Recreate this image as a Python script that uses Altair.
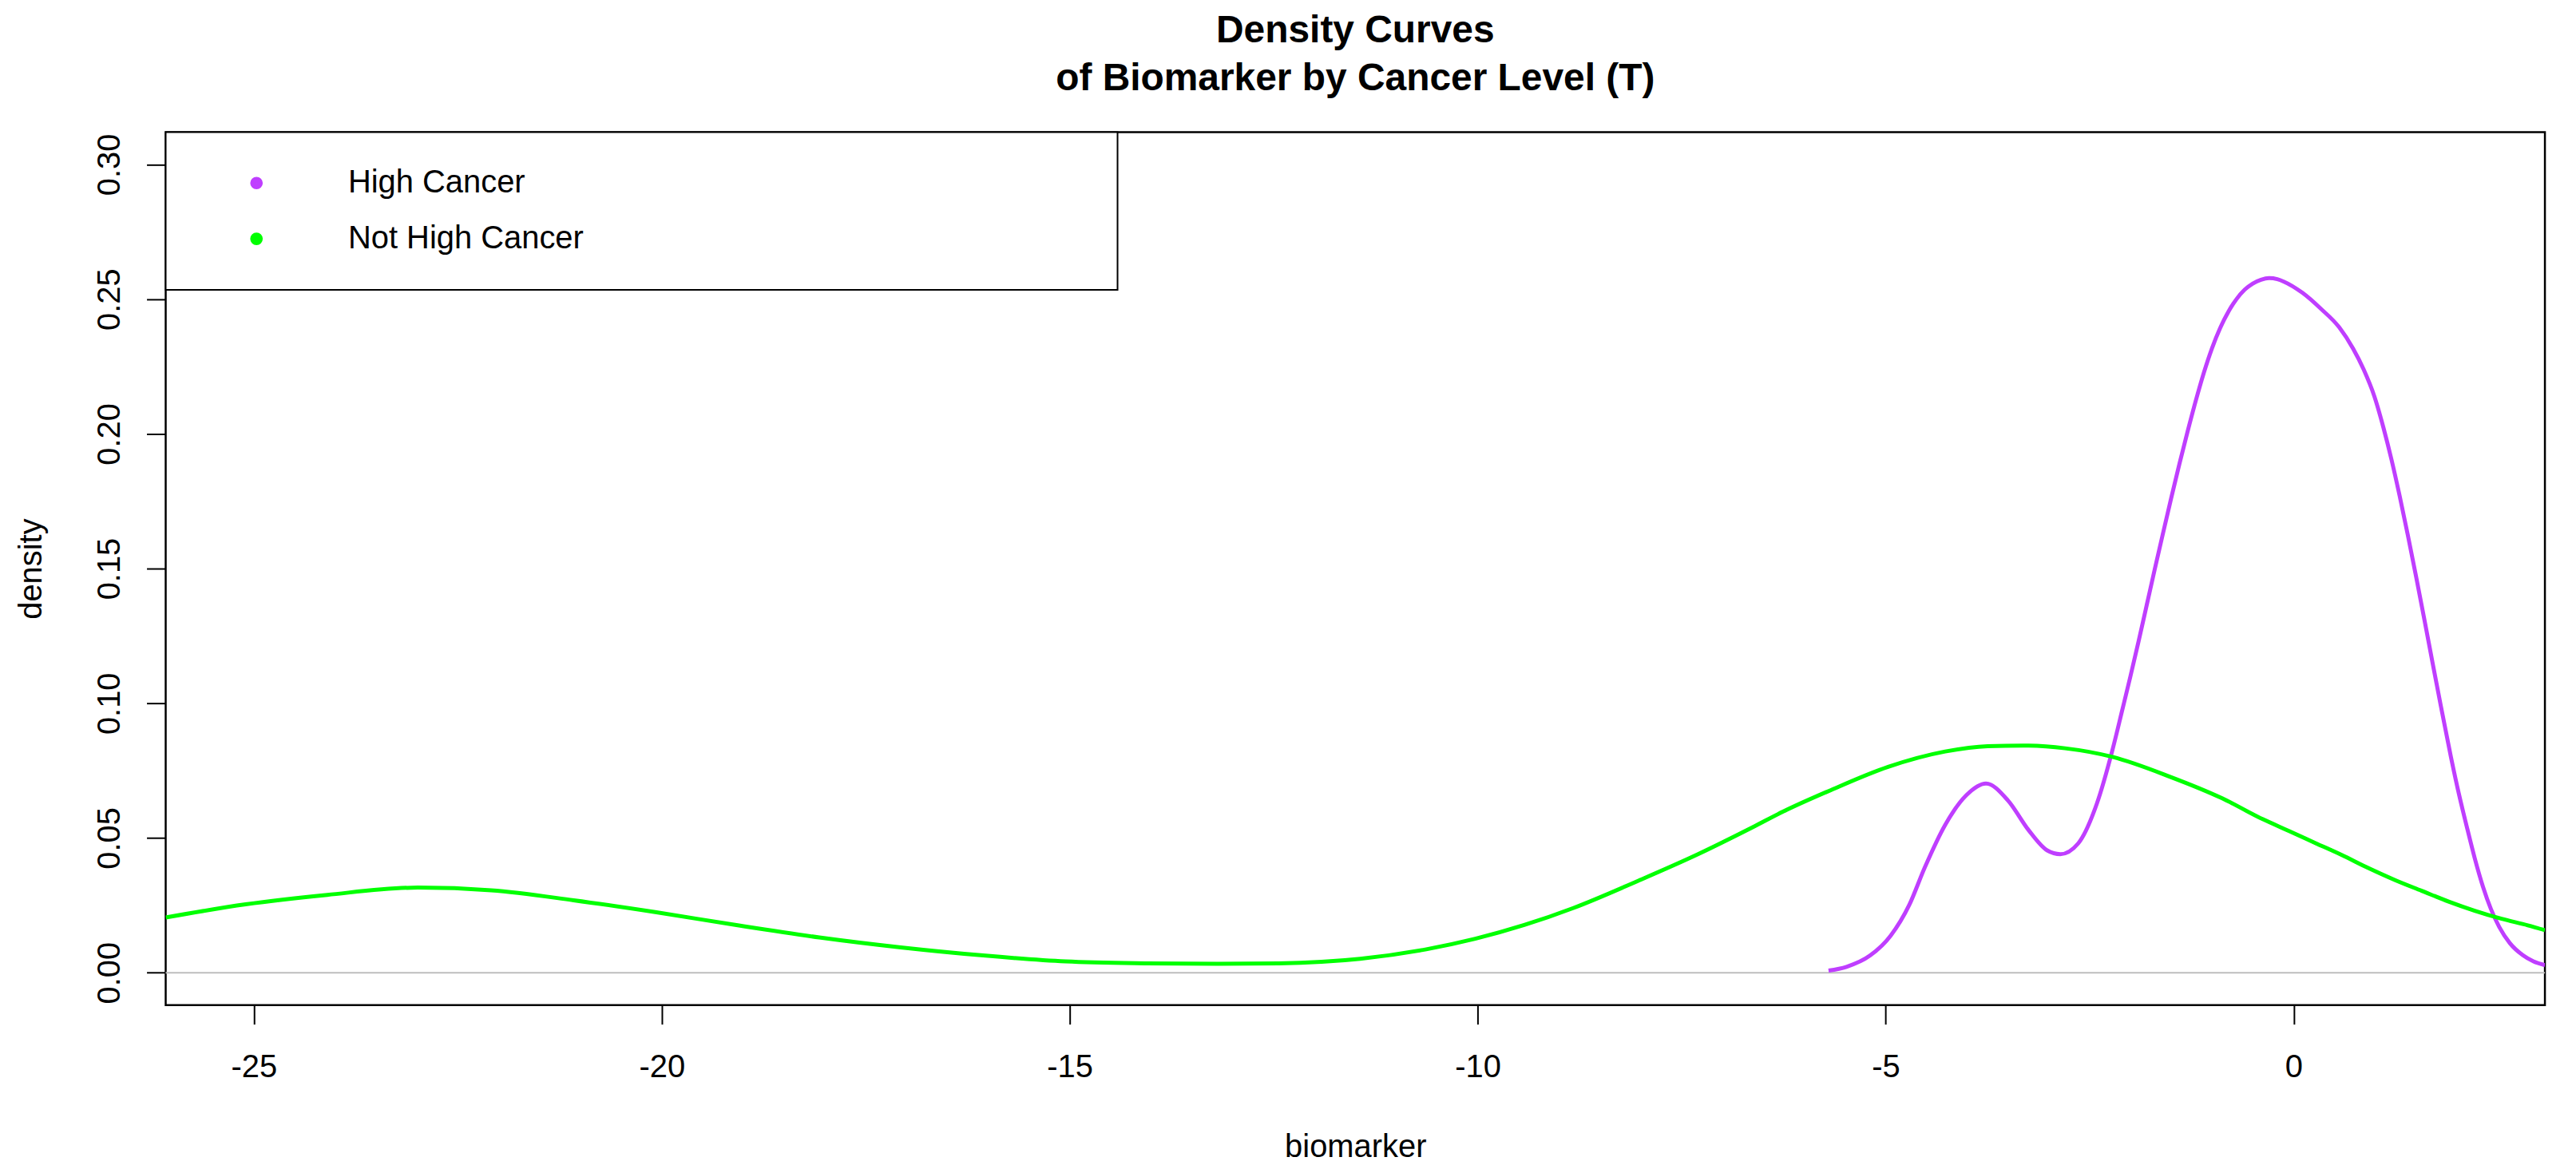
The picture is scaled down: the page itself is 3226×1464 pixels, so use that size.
import altair as alt
import pandas as pd

# ---- data ----
series_names = ["High Cancer", "Not High Cancer"]
series_colors = ["#BF3EFF", "#00FF00"]

high_x = [-5.70, -5.48, -5.19, -4.94, -4.71, -4.52, -4.27, -4.01, -3.77, -3.50,
          -3.25, -3.02, -2.86, -2.64, -2.41, -2.22, -2.10, -2.00, -1.90, -1.80,
          -1.70, -1.60, -1.50, -1.40, -1.30, -1.20, -1.10, -1.00, -0.90, -0.80,
          -0.70, -0.60, -0.50, -0.40, -0.30, -0.20, -0.12, 0.11, 0.335, 0.56,
          0.73, 0.86, 0.99, 1.10, 1.20, 1.30, 1.40, 1.50, 1.60, 1.70,
          1.80, 1.93, 2.03, 2.12, 2.22, 2.32, 2.42, 2.52, 2.65, 2.81,
          2.94, 3.08]
high_y = [0.0008, 0.0022, 0.0064, 0.0137, 0.0252, 0.0391, 0.0549, 0.0659, 0.0702, 0.0639,
          0.0530, 0.0454, 0.0440, 0.0480, 0.0629, 0.0827, 0.0975, 0.1100, 0.1230, 0.1365,
          0.1500, 0.1632, 0.1762, 0.1888, 0.2008, 0.2122, 0.2227, 0.2318, 0.2393, 0.2453,
          0.2500, 0.2535, 0.2558, 0.2572, 0.2578, 0.2574, 0.2565, 0.2523, 0.2464, 0.2395,
          0.2316, 0.2238, 0.2139, 0.2024, 0.1904, 0.1769, 0.1624, 0.1472, 0.1315, 0.1155,
          0.0997, 0.0798, 0.0658, 0.0545, 0.0425, 0.0320, 0.0235, 0.0170, 0.0110, 0.0065,
          0.0042, 0.0028]

not_x = [-26.08, -25.10, -24.10, -22.99, -22.09, -21.08, -20.08, -19.07, -18.07, -17.07,
         -16.06, -15.05, -14.05, -13.20, -12.44, -11.44, -10.63, -10.03, -9.43, -8.83,
         -8.02, -7.30, -6.63, -6.25, -5.67, -4.97, -4.27, -3.75, -3.31, -2.80,
         -2.22, -1.52, -0.88, -0.38, -0.056, 0.27, 0.59, 0.92, 1.25, 1.57,
         1.90, 2.22, 2.55, 2.87, 3.08]
not_y = [0.0205, 0.0254, 0.0289, 0.0316, 0.0306, 0.0269, 0.0225, 0.0176, 0.0131, 0.0094,
         0.0064, 0.0042, 0.0035, 0.0033, 0.0035, 0.0052, 0.0087, 0.0126, 0.0177, 0.0240,
         0.0343, 0.0440, 0.0540, 0.0599, 0.0678, 0.0764, 0.0821, 0.0841, 0.0843, 0.0833,
         0.0801, 0.0728, 0.0648, 0.0570, 0.0526, 0.0481, 0.0437, 0.0388, 0.0343, 0.0304,
         0.0264, 0.0230, 0.0200, 0.0176, 0.0158]

x_ticks = [-25, -20, -15, -10, -5, 0]
y_ticks = [0.00, 0.05, 0.10, 0.15, 0.20, 0.25, 0.30]
x_domain = [-26.08, 3.08]
y_domain = [-0.012, 0.312]
zero_line = [0.0]

title_lines = ["Density Curves", "of Biomarker by Cancer Level (T)"]
x_title = "biomarker"
y_title = "density"

# ---- build tables ----
rows = []
for xv, yv in zip(high_x, high_y):
    rows.append({"series": series_names[0], "x": xv, "y": yv, "order": len(rows)})
for xv, yv in zip(not_x, not_y):
    rows.append({"series": series_names[1], "x": xv, "y": yv, "order": len(rows)})
df = pd.DataFrame(rows)

FONT = "Liberation Sans"
W, H = 2987, 1096

xscale = alt.Scale(domain=x_domain, nice=False, zero=False)
yscale = alt.Scale(domain=y_domain, nice=False, zero=False)

xaxis = alt.Axis(values=x_ticks, labelExpr="datum.value + ''", grid=False, domain=False,
                 tickSize=24, tickWidth=2, tickColor="black",
                 labelFontSize=40, labelFont=FONT, labelColor="black",
                 labelBaseline="alphabetic", labelPadding=66,
                 title=x_title, titleFont=FONT, titleFontSize=40, titleFontWeight="normal",
                 titleColor="black", titleBaseline="alphabetic", titleY=190, titleX=W / 2)
yaxis = alt.Axis(values=y_ticks, format=".2f", grid=False, domain=False,
                 tickSize=24, tickWidth=2, tickColor="black",
                 labelFontSize=40, labelFont=FONT, labelColor="black",
                 labelAngle=270, labelAlign="center", labelBaseline="alphabetic", labelPadding=34,
                 title=y_title, titleFont=FONT, titleFontSize=40, titleFontWeight="normal",
                 titleColor="black", titleAngle=270, titleAlign="center",
                 titleBaseline="alphabetic", titleX=-156, titleY=H / 2)

zero = alt.Chart(pd.DataFrame({"y": zero_line})).mark_rule(
    color="#BEBEBE", strokeWidth=2).encode(
    y=alt.Y("y:Q", scale=yscale, axis=yaxis))

lines = alt.Chart(df).mark_line(strokeWidth=5, clip=True, interpolate="monotone").encode(
    x=alt.X("x:Q", scale=xscale, axis=xaxis),
    y=alt.Y("y:Q", scale=yscale, axis=yaxis),
    order="order:Q",
    color=alt.Color("series:N",
                    scale=alt.Scale(domain=series_names, range=series_colors),
                    legend=alt.Legend(orient="none", legendX=94, legendY=44, title=None,
                                      symbolType="circle", symbolSize=60, symbolStrokeWidth=8,
                                      labelFont=FONT, labelFontSize=40, labelColor="black",
                                      labelLimit=2000,
                                      labelOffset=95, rowPadding=30, padding=0)),
)

box = alt.Chart(pd.DataFrame({"k": [0]})).mark_rect(
    fill="white", stroke="black", strokeWidth=2).encode(
    x=alt.value(0), x2=alt.value(1195), y=alt.value(0), y2=alt.value(198))

chart = alt.layer(zero, lines, box).properties(
    width=W, height=H,
    title=alt.Title(title_lines, fontSize=48, fontWeight="bold", font=FONT, color="black",
                    anchor="middle", baseline="alphabetic", lineHeight=60, offset=4),
    padding={"left": 200, "top": 156, "right": 31, "bottom": 200},
    autosize=alt.AutoSizeParams(type="none"),
).configure_view(stroke="black", strokeWidth=2.5)

chart.save("out.html", embed_options={"renderer": "svg", "actions": False})
